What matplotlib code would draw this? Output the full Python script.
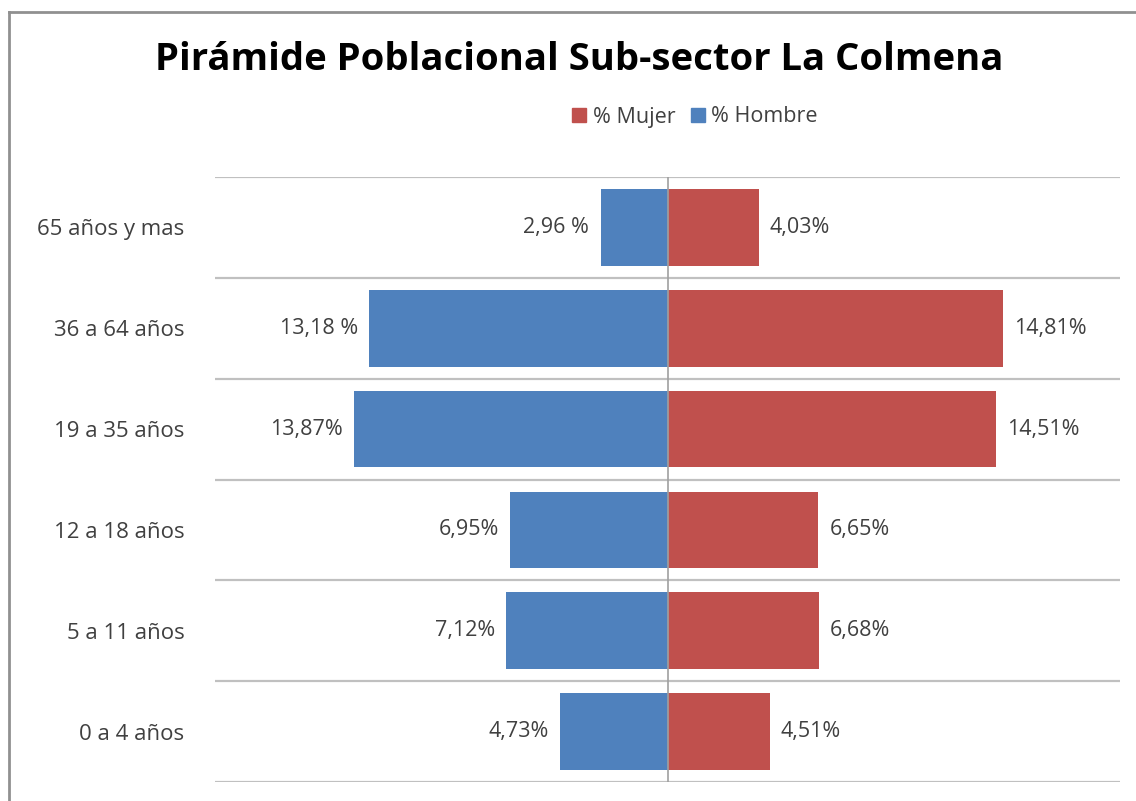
import numpy as np
import matplotlib.pyplot as plt
from matplotlib.lines import Line2D
from matplotlib.patches import Patch

plt.rcParams['font.family'] = ['Open Sans', 'DejaVu Sans']

# datos de la piramide (de abajo hacia arriba)
grupos = ["0 a 4 años", "5 a 11 años", "12 a 18 años", "19 a 35 años",
          "36 a 64 años", "65 años y mas"]
hombre = [4.73, 7.12, 6.95, 13.87, 13.18, 2.96]
mujer = [4.51, 6.68, 6.65, 14.51, 14.81, 4.03]
etiq_hombre = ["4,73%", "7,12%", "6,95%", "13,87%", "13,18 %", "2,96 %"]
etiq_mujer = ["4,51%", "6,68%", "6,65%", "14,51%", "14,81%", "4,03%"]

azul = '#4f81bd'
rojo = '#c0504d'
gris_txt = '#404040'

fig = plt.figure(figsize=(11.36, 8.01), dpi=100)
ax = fig.add_axes([215 / 1136, 1 - 782 / 801, (1120 - 215) / 1136, (782 - 177) / 801])

y = np.arange(len(grupos))
ax.barh(y, [-h for h in hombre], height=0.76, color=azul, zorder=2)
ax.barh(y, mujer, height=0.76, color=rojo, zorder=2)

for i in range(len(grupos)):
    ax.text(-hombre[i] - 0.5, y[i], etiq_hombre[i], ha='right', va='center',
            fontsize=15.5, color=gris_txt)
    ax.text(mujer[i] + 0.5, y[i], etiq_mujer[i], ha='left', va='center',
            fontsize=15.5, color=gris_txt)

ax.set_xlim(-20, 20)
ax.set_ylim(-0.5, len(grupos) - 0.5)
for b in np.arange(-0.5, len(grupos), 1.0):
    ax.axhline(b, color='#c0c0c0', lw=1.6, zorder=1)
ax.axvline(0, color='#a0a0a0', lw=1.2, zorder=3)

for s in ax.spines.values():
    s.set_visible(False)
ax.set_xticks([])
ax.set_yticks(y)
ax.set_yticklabels(grupos, fontsize=16, color=gris_txt)
ax.tick_params(axis='y', length=0, pad=22)

fig.text(579 / 1136, 1 - 60 / 801, "Pirámide Poblacional Sub-sector La Colmena",
         ha='center', va='center', fontsize=27.5, fontweight='bold', color='black')

handles = [Patch(color=rojo, label='% Mujer'), Patch(color=azul, label='% Hombre')]
fig.legend(handles=handles, loc='center', bbox_to_anchor=(695 / 1136, 1 - 117 / 801),
           ncol=2, frameon=False, fontsize=15.5, handlelength=0.65, handleheight=0.65,
           handletextpad=0.3, columnspacing=0.7, labelcolor=gris_txt)

# borde del grafico
fig.add_artist(Line2D([9 / 1136, 1], [1 - 12 / 801, 1 - 12 / 801], color='#909090', lw=2))
fig.add_artist(Line2D([9 / 1136, 9 / 1136], [0, 1 - 12 / 801], color='#909090', lw=2))

fig.savefig('out.png', dpi=100)
